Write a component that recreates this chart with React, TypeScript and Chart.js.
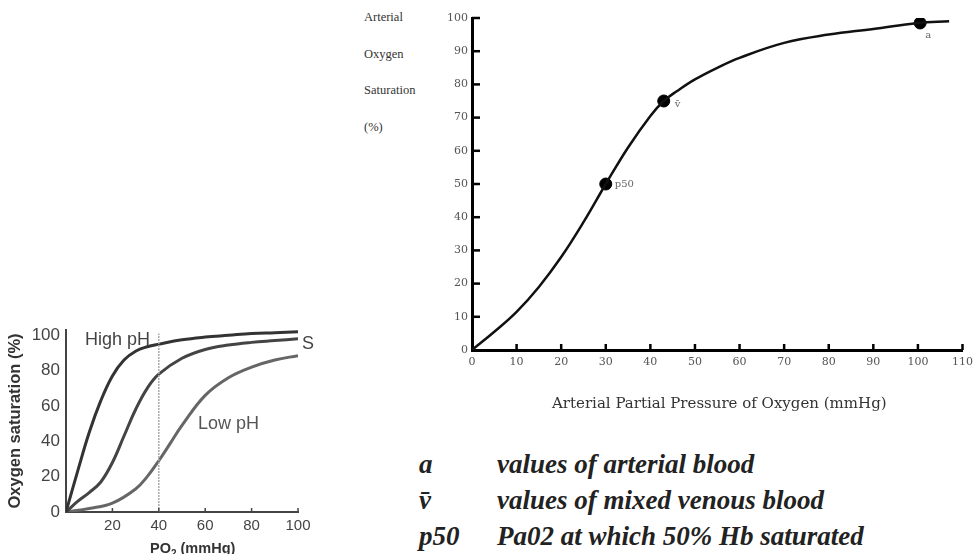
import React, { useEffect, useRef } from "react";
import { Chart, registerables } from "chart.js";

Chart.register(...registerables);

// ---- Main chart data (Arterial oxygen dissociation curve) ----
const mainCurveX = [0, 5, 10, 15, 20, 25, 30, 35, 40, 43, 46, 50, 55, 60, 70, 80, 90, 100, 107];
const mainCurveY = [0, 5.5, 11.5, 19, 28, 38.5, 50, 61, 70.5, 75, 78, 81.5, 85, 88, 92.5, 95, 96.7, 98.5, 99];
const markerX = [30, 43, 100.5];
const markerY = [50, 75, 98.5];
const markerLabels = ["p50", "v\u0304", "a"];
const mainXTicks = [0, 10, 20, 30, 40, 50, 60, 70, 80, 90, 100, 110];
const mainYTicks = [0, 10, 20, 30, 40, 50, 60, 70, 80, 90, 100];

// ---- Small chart data (pH effect) ----
const highPhX = [0, 5, 10, 15, 20, 25, 30, 35, 40, 50, 60, 70, 80, 90, 100];
const highPhY = [0, 23, 45, 63, 77, 86, 91, 93.5, 95, 97.5, 99, 100, 101, 101.5, 102];
const midX = [0, 5, 10, 15, 20, 25, 30, 35, 40, 50, 60, 70, 80, 90, 100];
const midY = [0, 6, 11, 17, 28, 43, 58, 70, 78, 87, 92, 94.5, 96, 97, 98];
const lowPhX = [0, 10, 20, 30, 35, 40, 45, 50, 60, 70, 80, 90, 100];
const lowPhY = [0, 2, 5, 13, 20, 29, 39, 49, 66, 76, 82, 86, 88.5];
const refLineX = [40, 40];
const refLineY = [0, 101];
const smallXTicks = [20, 40, 60, 80, 100];
const smallYTicks = [0, 20, 40, 60, 80, 100];

const legendKeys = ["a", "v\u0304", "p50"];
const legendTexts = [
  "values of arterial blood",
  "values of mixed venous blood",
  "Pa02 at which 50% Hb saturated",
];

const toPts = (xs: number[], ys: number[]) => xs.map((x, i) => ({ x, y: ys[i] }));

const innerTicks = {
  id: "innerTicks",
  afterDraw(chart: any, _args: any, opts: any) {
    const ctx = chart.ctx;
    const { left, bottom } = chart.chartArea;
    ctx.save();
    ctx.strokeStyle = opts.color || "#000";
    ctx.lineWidth = opts.width || 2;
    if (opts.x) {
      const s = chart.scales.x;
      s.ticks.forEach((t: any) => {
        const px = s.getPixelForValue(t.value);
        if (Math.abs(px - left) < 2) return;
        ctx.beginPath();
        ctx.moveTo(px, bottom);
        ctx.lineTo(px, bottom - opts.x);
        ctx.stroke();
      });
    }
    if (opts.y) {
      const s = chart.scales.y;
      s.ticks.forEach((t: any) => {
        const py = s.getPixelForValue(t.value);
        if (Math.abs(py - bottom) < 2) return;
        ctx.beginPath();
        ctx.moveTo(left, py);
        ctx.lineTo(left + opts.y, py);
        ctx.stroke();
      });
    }
    ctx.restore();
  },
};

const pointLabels = {
  id: "pointLabels",
  afterDatasetsDraw(chart: any, _args: any, opts: any) {
    const meta = chart.getDatasetMeta(1);
    const ctx = chart.ctx;
    ctx.save();
    ctx.fillStyle = "#666";
    ctx.font = "10px 'DejaVu Serif'";
    ctx.textBaseline = "middle";
    meta.data.forEach((el: any, i: number) => {
      const off = opts.offsets[i];
      ctx.fillText(opts.labels[i], el.x + off[0], el.y + off[1]);
    });
    ctx.restore();
  },
};

export default function App() {
  const mainRef = useRef<HTMLCanvasElement>(null);
  const smallRef = useRef<HTMLCanvasElement>(null);

  useEffect(() => {
    const serif = "'DejaVu Serif', 'Liberation Serif', serif";
    const main = new Chart(mainRef.current!, {
      type: "scatter",
      data: {
        datasets: [
          {
            data: toPts(mainCurveX, mainCurveY),
            showLine: true,
            borderColor: "#111",
            borderWidth: 2.5,
            pointRadius: 0,
            tension: 0.4,
          },
          {
            data: toPts(markerX, markerY),
            showLine: false,
            pointRadius: 6,
            pointBackgroundColor: "#000",
            pointBorderColor: "#000",
          },
        ],
      } as any,
      options: {
        animation: false,
        responsive: false,
        devicePixelRatio: 1,
        layout: { padding: { top: 18, right: 13, left: 0, bottom: 0 } },
        plugins: {
          legend: { display: false },
          tooltip: { enabled: false },
          innerTicks: { x: 6, y: 8, color: "#000", width: 2.5 },
          pointLabels: {
            labels: markerLabels,
            offsets: [[9, 0], [11, 3], [5, 12]],
          },
        } as any,
        scales: {
          x: {
            type: "linear",
            min: 0,
            max: 110,
            afterBuildTicks: (s: any) => {
              s.ticks = mainXTicks.map((v) => ({ value: v }));
            },
            afterFit: (s: any) => {
              s.height = 70;
            },
            grid: { display: false, drawTicks: false },
            border: { color: "#000", width: 3 },
            ticks: { padding: 6, color: "#555", font: { family: serif, size: 11 } },
          },
          y: {
            type: "linear",
            min: 0,
            max: 100,
            afterBuildTicks: (s: any) => {
              s.ticks = mainYTicks.map((v) => ({ value: v }));
            },
            afterFit: (s: any) => {
              s.width = 52;
            },
            grid: { display: false, drawTicks: false },
            border: { color: "#000", width: 3 },
            ticks: { padding: 4, color: "#555", font: { family: serif, size: 11 } },
          },
        },
      } as any,
      plugins: [innerTicks, pointLabels],
    });

    const sans = "'Liberation Sans', Arial, sans-serif";
    const small = new Chart(smallRef.current!, {
      type: "scatter",
      data: {
        datasets: [
          {
            data: toPts(refLineX, refLineY),
            showLine: true,
            borderColor: "#aaa",
            borderWidth: 1.5,
            borderDash: [2, 1],
            pointRadius: 0,
          },
          {
            data: toPts(highPhX, highPhY),
            showLine: true,
            borderColor: "#333",
            borderWidth: 3,
            pointRadius: 0,
            tension: 0.4,
          },
          {
            data: toPts(midX, midY),
            showLine: true,
            borderColor: "#444",
            borderWidth: 3,
            pointRadius: 0,
            tension: 0.4,
          },
          {
            data: toPts(lowPhX, lowPhY),
            showLine: true,
            borderColor: "#666",
            borderWidth: 3,
            pointRadius: 0,
            tension: 0.4,
          },
        ],
      } as any,
      options: {
        animation: false,
        responsive: false,
        devicePixelRatio: 1,
        layout: { padding: { top: 30, right: 32, left: 0, bottom: 0 } },
        plugins: {
          legend: { display: false },
          tooltip: { enabled: false },
          innerTicks: { x: 4, y: 0, color: "#444", width: 1.5 },
        } as any,
        scales: {
          x: {
            type: "linear",
            min: 0,
            max: 100,
            afterBuildTicks: (s: any) => {
              s.ticks = smallXTicks.map((v) => ({ value: v }));
            },
            afterFit: (s: any) => {
              s.height = 42;
            },
            grid: { display: false, drawTicks: false },
            border: { color: "#444", width: 2 },
            ticks: { padding: 5, color: "#444", font: { family: sans, size: 15 } },
          },
          y: {
            type: "linear",
            min: 0,
            max: 103,
            afterBuildTicks: (s: any) => {
              s.ticks = smallYTicks.map((v) => ({ value: v }));
            },
            afterFit: (s: any) => {
              s.width = 66;
            },
            grid: { display: false, drawOnChartArea: false, tickLength: 4, color: "#444", lineWidth: 1.5 },
            border: { color: "#444", width: 2 },
            ticks: { padding: 2, color: "#444", font: { family: sans, size: 17 } },
            title: {
              display: true,
              text: "Oxygen saturation (%)",
              color: "#333",
              font: { family: sans, size: 16.5, weight: "bold" },
              padding: { top: 6, bottom: 0 },
            },
          },
        },
      } as any,
      plugins: [innerTicks],
    });

    return () => {
      main.destroy();
      small.destroy();
    };
  }, []);

  const serifCss = "'Liberation Serif', 'DejaVu Serif', serif";
  const wideSerifCss = "'DejaVu Serif', 'Liberation Serif', serif";
  const sansCss = "'Liberation Sans', Arial, sans-serif";
  const yLines = ["Arterial", "Oxygen", "Saturation", "(%)"];
  const yLineTops = [17, 54, 90, 127];
  const legendTops = [464, 500, 536];

  const legendStyle: React.CSSProperties = {
    position: "absolute",
    fontFamily: serifCss,
    fontSize: 27,
    fontWeight: "bold",
    fontStyle: "italic",
    color: "#222",
    lineHeight: "32px",
    whiteSpace: "nowrap",
  };

  return (
    <div
      style={{
        position: "absolute",
        left: 0,
        top: 0,
        width: 979,
        height: 554,
        background: "#fff",
        overflow: "hidden",
      }}
    >
      <canvas
        ref={mainRef}
        width={559}
        height={420}
        style={{ position: "absolute", left: 420, top: 0, width: 559, height: 420 }}
      />
      <canvas
        ref={smallRef}
        width={330}
        height={254}
        style={{ position: "absolute", left: 0, top: 300, width: 330, height: 254 }}
      />
      {yLines.map((t, i) => (
        <div
          key={t}
          style={{
            position: "absolute",
            left: 364,
            top: yLineTops[i] - 8,
            fontFamily: serifCss,
            fontSize: 12.5,
            color: "#333",
            lineHeight: "16px",
            whiteSpace: "nowrap",
          }}
        >
          {t}
        </div>
      ))}
      <div
        style={{
          position: "absolute",
          left: 552,
          top: 393,
          fontFamily: wideSerifCss,
          fontSize: 15,
          color: "#333",
          lineHeight: "20px",
          whiteSpace: "nowrap",
        }}
      >
        Arterial Partial Pressure of Oxygen (mmHg)
      </div>
      {legendKeys.map((k, i) => (
        <React.Fragment key={k}>
          <div style={{ ...legendStyle, left: 419, top: legendTops[i] - 16 }}>{k}</div>
          <div style={{ ...legendStyle, left: 497, top: legendTops[i] - 16 }}>{legendTexts[i]}</div>
        </React.Fragment>
      ))}
      <div
        style={{
          position: "absolute",
          left: 85,
          top: 328,
          fontFamily: sansCss,
          fontSize: 18,
          color: "#444",
          lineHeight: "22px",
          whiteSpace: "nowrap",
        }}
      >
        High pH
      </div>
      <div
        style={{
          position: "absolute",
          left: 302,
          top: 332,
          fontFamily: sansCss,
          fontSize: 18,
          color: "#444",
          lineHeight: "22px",
        }}
      >
        S
      </div>
      <div
        style={{
          position: "absolute",
          left: 198,
          top: 412,
          fontFamily: sansCss,
          fontSize: 18,
          color: "#555",
          lineHeight: "22px",
          whiteSpace: "nowrap",
        }}
      >
        Low pH
      </div>
      <div
        style={{
          position: "absolute",
          left: 150,
          top: 538,
          fontFamily: sansCss,
          fontSize: 14.5,
          fontWeight: "bold",
          color: "#333",
          lineHeight: "20px",
          whiteSpace: "nowrap",
        }}
      >
        PO<sub style={{ fontSize: 10 }}>2</sub> (mmHg)
      </div>
    </div>
  );
}
